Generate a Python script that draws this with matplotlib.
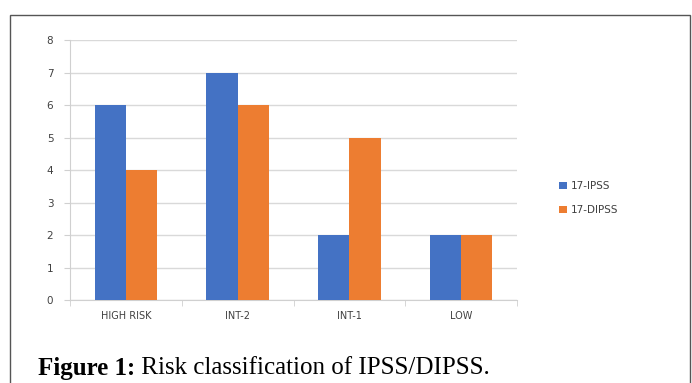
import matplotlib
matplotlib.use("Agg")
import matplotlib.pyplot as plt
from matplotlib.patches import Rectangle
import numpy as np

categories = ["HIGH RISK", "INT-2", "INT-1", "LOW"]
ipss = [6, 7, 2, 2]
dipss = [4, 6, 5, 2]
series_names = ["17-IPSS", "17-DIPSS"]
y_ticks = [0, 1, 2, 3, 4, 5, 6, 7, 8]
caption_bold = "Figure 1:"
caption_rest = " Risk classification of IPSS/DIPSS."

W, H = 692, 383
fig = plt.figure(figsize=(W / 100, H / 100), dpi=100)
fig.patch.set_facecolor("white")

# outer frame
fig.add_artist(Rectangle((10 / W, -0.1), 680 / W, (H - 15) / H + 0.1,
                         transform=fig.transFigure, fill=False,
                         edgecolor="#555555", linewidth=1.0))

ax = fig.add_axes([70 / W, 1 - 300 / H, (517 - 70) / W, 260 / H])
x = np.arange(len(categories))
bw = 0.28
ax.bar(x - bw / 2, ipss, bw, color="#4472C4", label=series_names[0], zorder=3)
ax.bar(x + bw / 2, dipss, bw, color="#ED7D31", label=series_names[1], zorder=3)

ax.set_xlim(-0.5, len(categories) - 0.5)
ax.set_ylim(0, 8)
ax.set_yticks(y_ticks)
ax.grid(axis="y", color="#d9d9d9", linewidth=1, zorder=0)
for s in ["top", "right"]:
    ax.spines[s].set_visible(False)
for s in ["left", "bottom"]:
    ax.spines[s].set_color("#d0d0d0")
ax.set_xticks(x)
ax.set_xticklabels(categories)
ax.set_xticks(np.arange(len(categories) + 1) - 0.5, minor=True)
ax.tick_params(axis="x", which="major", length=0, pad=8, labelsize=7, labelcolor="#404040")
ax.tick_params(axis="x", which="minor", length=4, color="#d0d0d0")
ax.tick_params(axis="y", length=4, color="#d0d0d0", labelsize=7.5, labelcolor="#404040", pad=8)

ax.legend(loc="center left", bbox_to_anchor=(550 / W, 1 - 198 / H),
          bbox_transform=fig.transFigure, frameon=False, fontsize=7.5,
          handlelength=0.7, handleheight=0.7, handletextpad=0.4, labelspacing=1.35,
          labelcolor="#404040")

t1 = fig.text(38 / W, 1 - 368 / H, caption_bold, fontsize=18, fontweight="bold",
              family="Liberation Serif", va="center", ha="left")
fig.canvas.draw()
bb = t1.get_window_extent()
fig.text(bb.x1 / W, 1 - 368 / H, caption_rest, fontsize=18,
         family="Liberation Serif", va="center", ha="left")

fig.savefig("out.png", dpi=100)
